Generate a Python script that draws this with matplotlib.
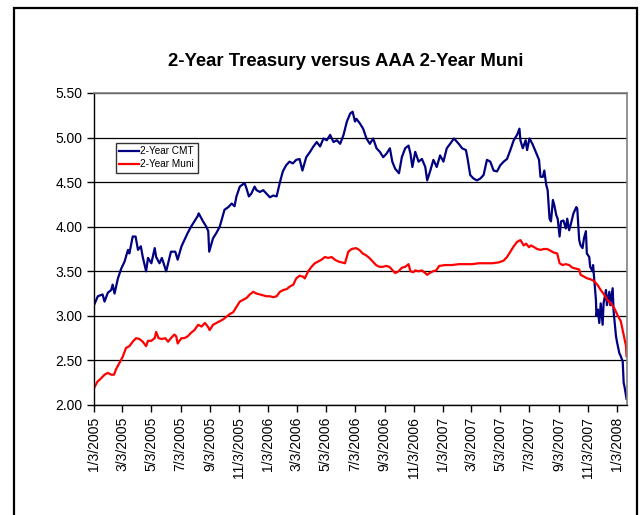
import pandas as pd
import matplotlib
matplotlib.use("Agg")
import matplotlib.pyplot as plt
from matplotlib.patches import Rectangle

plt.rcParams['font.family'] = ['Liberation Sans', 'DejaVu Sans']

TITLE = "2-Year Treasury versus AAA 2-Year Muni"

# 2-Year CMT
cmt_dates = [
    "2005-01-03", "2005-01-11", "2005-01-21", "2005-01-25", "2005-02-01", "2005-02-08",
    "2005-02-11", "2005-02-15", "2005-02-22", "2005-03-01", "2005-03-08", "2005-03-15",
    "2005-03-18", "2005-03-25", "2005-03-31", "2005-04-05", "2005-04-11", "2005-04-15",
    "2005-04-22", "2005-04-26", "2005-05-03", "2005-05-10", "2005-05-13", "2005-05-20",
    "2005-05-25", "2005-06-03", "2005-06-07", "2005-06-13", "2005-06-22", "2005-06-27",
    "2005-07-05", "2005-07-11", "2005-07-18", "2005-07-25", "2005-08-01", "2005-08-08",
    "2005-08-10", "2005-08-19", "2005-08-26", "2005-08-30", "2005-09-01", "2005-09-09",
    "2005-09-16", "2005-09-23", "2005-10-03", "2005-10-11", "2005-10-18", "2005-10-24",
    "2005-10-28", "2005-11-04", "2005-11-14", "2005-11-18", "2005-11-23", "2005-11-28",
    "2005-12-05", "2005-12-09", "2005-12-16", "2005-12-23", "2005-12-30", "2006-01-06",
    "2006-01-13", "2006-01-20", "2006-01-27", "2006-02-02", "2006-02-09", "2006-02-16",
    "2006-02-23", "2006-03-02", "2006-03-09", "2006-03-15", "2006-03-23", "2006-03-31",
    "2006-04-07", "2006-04-14", "2006-04-21", "2006-04-28", "2006-05-05", "2006-05-12",
    "2006-05-19", "2006-05-26", "2006-06-02", "2006-06-09", "2006-06-16", "2006-06-23",
    "2006-06-28", "2006-07-03", "2006-07-06", "2006-07-13", "2006-07-20", "2006-07-27",
    "2006-08-03", "2006-08-10", "2006-08-17", "2006-08-24", "2006-08-31", "2006-09-07",
    "2006-09-14", "2006-09-19", "2006-09-25", "2006-10-03", "2006-10-09", "2006-10-16",
    "2006-10-23", "2006-10-27", "2006-10-31", "2006-11-06", "2006-11-13", "2006-11-20",
    "2006-11-27", "2006-12-01", "2006-12-07", "2006-12-14", "2006-12-21", "2006-12-28",
    "2007-01-04", "2007-01-11", "2007-01-18", "2007-01-26", "2007-02-05", "2007-02-12",
    "2007-02-20", "2007-02-23", "2007-03-01", "2007-03-08", "2007-03-15", "2007-03-22",
    "2007-03-29", "2007-04-05", "2007-04-12", "2007-04-19", "2007-04-26", "2007-05-03",
    "2007-05-10", "2007-05-17", "2007-05-24", "2007-05-31", "2007-06-07", "2007-06-12",
    "2007-06-14", "2007-06-19", "2007-06-25", "2007-06-28", "2007-07-03", "2007-07-09",
    "2007-07-13", "2007-07-19", "2007-07-23", "2007-07-26", "2007-07-31", "2007-08-03",
    "2007-08-07", "2007-08-10", "2007-08-14", "2007-08-17", "2007-08-21", "2007-08-24",
    "2007-08-28", "2007-08-31", "2007-09-04", "2007-09-07", "2007-09-12", "2007-09-17",
    "2007-09-20", "2007-09-24", "2007-09-28", "2007-10-03", "2007-10-09", "2007-10-11",
    "2007-10-15", "2007-10-18", "2007-10-22", "2007-10-25", "2007-10-29", "2007-10-31",
    "2007-11-05", "2007-11-07", "2007-11-12", "2007-11-13", "2007-11-16", "2007-11-19",
    "2007-11-20", "2007-11-23", "2007-11-26", "2007-11-29", "2007-12-03", "2007-12-05",
    "2007-12-10", "2007-12-12", "2007-12-17", "2007-12-19", "2007-12-24", "2007-12-26",
    "2007-12-31", "2008-01-02", "2008-01-07", "2008-01-09", "2008-01-14", "2008-01-16",
    "2008-01-18", "2008-01-22",
]
cmt_vals = [
    3.12, 3.22, 3.24, 3.16, 3.26, 3.29,
    3.35, 3.25, 3.42, 3.53, 3.61, 3.74,
    3.70, 3.89, 3.89, 3.74, 3.78, 3.66,
    3.50, 3.65, 3.59, 3.76, 3.66, 3.59,
    3.65, 3.50, 3.59, 3.72, 3.72, 3.63,
    3.78, 3.85, 3.93, 4.00, 4.06, 4.12,
    4.15, 4.06, 4.00, 3.95, 3.72, 3.87,
    3.93, 4.00, 4.19, 4.22, 4.26, 4.23,
    4.34, 4.45, 4.49, 4.43, 4.34, 4.37,
    4.45, 4.41, 4.39, 4.41, 4.37, 4.33,
    4.35, 4.34, 4.50, 4.62, 4.69, 4.73,
    4.71, 4.75, 4.76, 4.63, 4.78, 4.84,
    4.90, 4.95, 4.90, 4.99, 4.97, 5.03,
    4.95, 4.97, 4.93, 5.03, 5.18, 5.27,
    5.29, 5.18, 5.21, 5.16, 5.10, 4.99,
    4.93, 4.99, 4.88, 4.84, 4.78, 4.82,
    4.88, 4.73, 4.65, 4.60, 4.78, 4.88,
    4.91, 4.82, 4.67, 4.84, 4.73, 4.76,
    4.67, 4.52, 4.62, 4.75, 4.67, 4.80,
    4.73, 4.88, 4.93, 4.99, 4.93, 4.88,
    4.86, 4.78, 4.58, 4.54, 4.52, 4.54,
    4.58, 4.75, 4.73, 4.63, 4.62, 4.69,
    4.73, 4.76, 4.86, 4.97, 5.03, 5.10,
    4.97, 4.88, 4.97, 4.86, 4.99, 4.93,
    4.88, 4.80, 4.75, 4.56, 4.56, 4.63,
    4.47, 4.41, 4.09, 4.06, 4.30, 4.24,
    4.13, 4.09, 3.89, 4.06, 4.07, 3.98,
    4.09, 3.96, 4.04, 4.15, 4.22, 4.20,
    3.85, 3.79, 3.76, 3.87, 3.95, 3.70,
    3.66, 3.55, 3.50, 3.57, 3.37, 3.18,
    3.00, 3.07, 2.92, 3.14, 2.90, 3.14,
    3.29, 3.12, 3.27, 3.12, 3.31, 3.05,
    2.77, 2.71, 2.58, 2.56, 2.49, 2.25,
    2.20, 2.07,
]

# 2-Year AAA Muni
muni_dates = [
    "2005-01-03", "2005-01-10", "2005-01-18", "2005-01-25", "2005-02-01", "2005-02-08",
    "2005-02-14", "2005-02-18", "2005-02-25", "2005-03-04", "2005-03-11", "2005-03-18",
    "2005-03-25", "2005-04-01", "2005-04-08", "2005-04-15", "2005-04-22", "2005-04-26",
    "2005-05-03", "2005-05-10", "2005-05-13", "2005-05-18", "2005-05-25", "2005-06-01",
    "2005-06-07", "2005-06-13", "2005-06-20", "2005-06-24", "2005-06-27", "2005-07-05",
    "2005-07-11", "2005-07-18", "2005-07-25", "2005-08-01", "2005-08-09", "2005-08-16",
    "2005-08-23", "2005-08-29", "2005-09-02", "2005-09-09", "2005-09-16", "2005-09-23",
    "2005-09-30", "2005-10-07", "2005-10-14", "2005-10-21", "2005-10-28", "2005-11-04",
    "2005-11-11", "2005-11-18", "2005-11-25", "2005-12-02", "2005-12-09", "2005-12-16",
    "2005-12-23", "2005-12-30", "2006-01-06", "2006-01-13", "2006-01-20", "2006-01-27",
    "2006-02-03", "2006-02-10", "2006-02-17", "2006-02-24", "2006-03-02", "2006-03-09",
    "2006-03-16", "2006-03-20", "2006-03-27", "2006-04-03", "2006-04-10", "2006-04-17",
    "2006-04-24", "2006-05-01", "2006-05-08", "2006-05-15", "2006-05-22", "2006-05-29",
    "2006-06-05", "2006-06-12", "2006-06-19", "2006-06-26", "2006-07-05", "2006-07-12",
    "2006-07-19", "2006-07-26", "2006-08-02", "2006-08-09", "2006-08-16", "2006-08-23",
    "2006-08-30", "2006-09-06", "2006-09-13", "2006-09-20", "2006-09-25", "2006-10-02",
    "2006-10-09", "2006-10-16", "2006-10-23", "2006-10-27", "2006-11-02", "2006-11-06",
    "2006-11-13", "2006-11-20", "2006-11-27", "2006-12-01", "2006-12-06", "2006-12-13",
    "2006-12-20", "2006-12-26", "2007-01-08", "2007-01-22", "2007-02-05", "2007-02-19",
    "2007-03-05", "2007-03-19", "2007-04-02", "2007-04-16", "2007-04-30", "2007-05-10",
    "2007-05-17", "2007-05-24", "2007-05-31", "2007-06-07", "2007-06-14", "2007-06-21",
    "2007-06-26", "2007-07-02", "2007-07-06", "2007-07-13", "2007-07-19", "2007-07-26",
    "2007-08-02", "2007-08-09", "2007-08-16", "2007-08-23", "2007-08-30", "2007-09-04",
    "2007-09-10", "2007-09-17", "2007-09-24", "2007-10-01", "2007-10-08", "2007-10-15",
    "2007-10-18", "2007-10-25", "2007-11-01", "2007-11-08", "2007-11-15", "2007-11-22",
    "2007-11-29", "2007-12-06", "2007-12-13", "2007-12-20", "2007-12-27", "2008-01-03",
    "2008-01-10", "2008-01-14", "2008-01-17", "2008-01-21", "2008-01-22",
]
muni_vals = [
    2.19, 2.26, 2.30, 2.34, 2.36, 2.34,
    2.34, 2.40, 2.47, 2.54, 2.64, 2.66,
    2.71, 2.75, 2.74, 2.71, 2.66, 2.72,
    2.72, 2.75, 2.82, 2.75, 2.74, 2.75,
    2.71, 2.75, 2.79, 2.77, 2.69, 2.75,
    2.75, 2.77, 2.81, 2.84, 2.90, 2.88,
    2.92, 2.88, 2.84, 2.90, 2.92, 2.94,
    2.96, 2.99, 3.02, 3.04, 3.10, 3.16,
    3.18, 3.20, 3.24, 3.27, 3.25, 3.24,
    3.23, 3.22, 3.22, 3.21, 3.22, 3.27,
    3.29, 3.30, 3.33, 3.35, 3.42, 3.45,
    3.44, 3.42, 3.50, 3.55, 3.59, 3.61,
    3.63, 3.66, 3.65, 3.66, 3.63, 3.61,
    3.60, 3.59, 3.72, 3.75, 3.76, 3.74,
    3.70, 3.68, 3.65, 3.61, 3.57, 3.55,
    3.55, 3.56, 3.55, 3.51, 3.48, 3.50,
    3.54, 3.55, 3.58, 3.50, 3.49, 3.51,
    3.50, 3.51, 3.48, 3.46, 3.48, 3.50,
    3.51, 3.56, 3.57, 3.57, 3.58, 3.58,
    3.58, 3.59, 3.59, 3.59, 3.60, 3.62,
    3.66, 3.72, 3.78, 3.83, 3.85, 3.79,
    3.81, 3.77, 3.79, 3.77, 3.75, 3.74,
    3.75, 3.75, 3.73, 3.71, 3.70, 3.59,
    3.57, 3.58, 3.57, 3.54, 3.53, 3.52,
    3.46, 3.44, 3.42, 3.41, 3.39, 3.35,
    3.29, 3.24, 3.18, 3.14, 3.09, 3.01,
    2.94, 2.84, 2.77, 2.66, 2.55,
]

tick_labels = [
    "1/3/2005", "3/3/2005", "5/3/2005", "7/3/2005", "9/3/2005", "11/3/2005",
    "1/3/2006", "3/3/2006", "5/3/2006", "7/3/2006", "9/3/2006", "11/3/2006",
    "1/3/2007", "3/3/2007", "5/3/2007", "7/3/2007", "9/3/2007", "11/3/2007",
    "1/3/2008",
]
y_ticks = [2.00, 2.50, 3.00, 3.50, 4.00, 4.50, 5.00, 5.50]

fig = plt.figure(figsize=(6.4, 5.15), dpi=100)
ax = fig.add_axes([94 / 640, 1 - 405 / 515, 533 / 640, 312 / 515])

ax.plot(pd.to_datetime(cmt_dates), cmt_vals, color="#000080", lw=1.6, label="2-Year CMT")
ax.plot(pd.to_datetime(muni_dates), muni_vals, color="#ff0000", lw=1.6, label="2-Year Muni")

ax.set_xlim(pd.Timestamp("2005-01-03"), pd.Timestamp("2008-01-23"))
ax.set_ylim(2.0, 5.5)
ax.set_yticks(y_ticks)
ax.set_yticklabels([f"{v:.2f}" for v in y_ticks])
ax.set_xticks(pd.to_datetime(tick_labels, format="%m/%d/%Y"))
ax.set_xticklabels(tick_labels, rotation=90)
ax.tick_params(axis="both", labelsize=10, length=5, width=1, direction="out", color="black")

ax.yaxis.grid(True, color="black", lw=0.9)
ax.set_axisbelow(True)
for side in ["top", "right"]:
    ax.spines[side].set_color("#808080")
    ax.spines[side].set_linewidth(1.2)
for side in ["left", "bottom"]:
    ax.spines[side].set_color("black")
    ax.spines[side].set_linewidth(1)

leg = ax.legend(loc="upper left", bbox_to_anchor=(0.041, 0.84), fontsize=7.2,
                frameon=True, fancybox=False, handlelength=2.0, handletextpad=0.1,
                borderpad=0.35, labelspacing=0.3, borderaxespad=0)
leg.get_frame().set_edgecolor("black")
leg.get_frame().set_linewidth(1)

fig.text(346 / 640, 1 - 62 / 515, TITLE, ha="center", va="center",
         fontsize=13.3, fontweight="bold")

# outer chart border
fig.patches.append(Rectangle((14 / 640, -0.1), 623 / 640, 1.1 - 8 / 515,
                             transform=fig.transFigure, fill=False,
                             edgecolor="black", lw=1.6, clip_on=False))

fig.savefig("out.png", dpi=100)
